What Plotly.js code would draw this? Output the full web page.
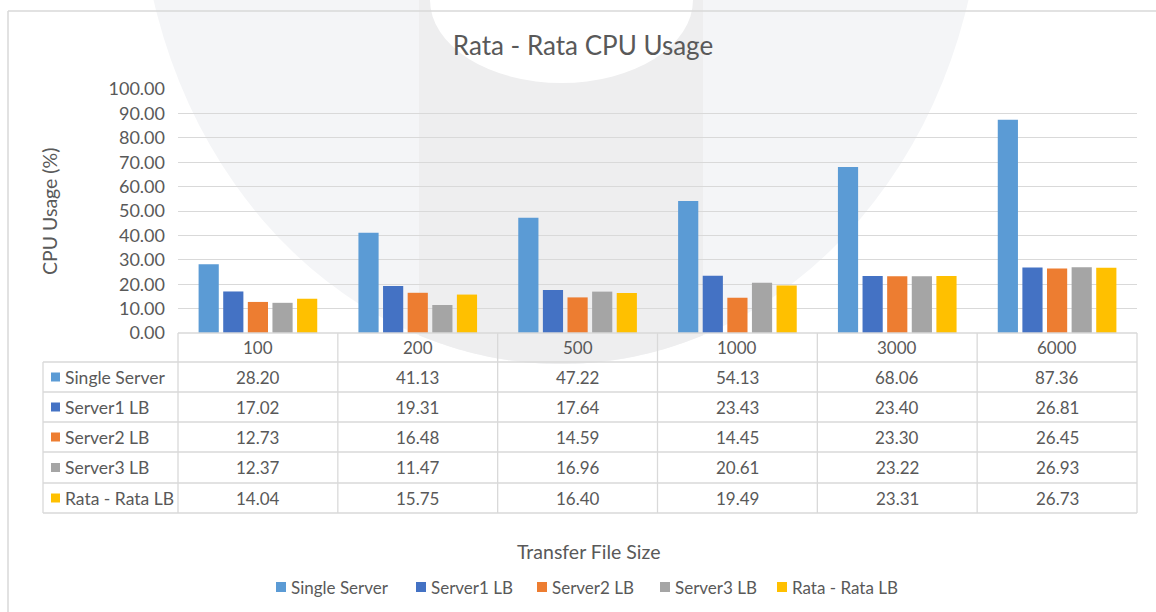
<!DOCTYPE html>
<html>
<head>
<meta charset="utf-8">
<script src="https://cdn.plot.ly/plotly-3.0.1.min.js"></script>
<style>
  html, body { margin: 0; padding: 0; background: #ffffff; }
  #chart { width: 1156px; height: 612px; }
</style>
</head>
<body>
<div id="chart"></div>
<script>
// ---- data ----
const categories = ['100', '200', '500', '1000', '3000', '6000'];
const seriesNames = ['Single Server', 'Server1 LB', 'Server2 LB', 'Server3 LB', 'Rata - Rata LB'];
const singleServer = [28.20, 41.13, 47.22, 54.13, 68.06, 87.36];
const server1LB    = [17.02, 19.31, 17.64, 23.43, 23.40, 26.81];
const server2LB    = [12.73, 16.48, 14.59, 14.45, 23.30, 26.45];
const server3LB    = [12.37, 11.47, 16.96, 20.61, 23.22, 26.93];
const rataRataLB   = [14.04, 15.75, 16.40, 19.49, 23.31, 26.73];
const yTickValues  = [0, 10, 20, 30, 40, 50, 60, 70, 80, 90, 100];

const seriesValues = [singleServer, server1LB, server2LB, server3LB, rataRataLB];
const seriesColors = ['#5b9bd5', '#4472c4', '#ed7d31', '#a5a5a5', '#ffc000'];

// ---- geometry (pixels) ----
const W = 1156, H = 612;
const L = 178, R = 1137, T = 89, B = 333;
const px = x => (x - L) / (R - L);
const py = y => (B - y) / (B - T);
const FONT = 'Lato, "Open Sans", sans-serif';
const TXT = '#595959';
const GRID = '#d9d9d9';

const traces = seriesValues.map((vals, i) => ({
  type: 'bar',
  name: seriesNames[i],
  x: categories,
  y: vals,
  marker: { color: seriesColors[i] },
  hoverinfo: 'x+y+name'
}));

const shapes = [];
const annotations = [];

// --- watermark (decorative background) ---
const wcx = 561, wcy = -128, wa = 422, wb = 492;
shapes.push({ type: 'circle', xref: 'paper', yref: 'paper', layer: 'below',
  x0: px(wcx - wa), x1: px(wcx + wa), y0: py(wcy + wb), y1: py(wcy - wb),
  fillcolor: '#f4f5f7', line: { width: 0 } });
(function () {
  const x0 = 419, x1 = 703;
  let d = 'M ' + px(x0) + ',' + py(-20) + ' L ' + px(x1) + ',' + py(-20);
  for (let x = x1; x >= x0; x -= 4) {
    const t = (x - wcx) / wa;
    const y = wcy + wb * Math.sqrt(Math.max(0, 1 - t * t));
    d += ' L ' + px(x) + ',' + py(y);
  }
  d += ' Z';
  shapes.push({ type: 'path', xref: 'paper', yref: 'paper', layer: 'below', path: d,
    fillcolor: '#eeeeef', line: { width: 0 } });
})();
shapes.push({ type: 'circle', xref: 'paper', yref: 'paper', layer: 'below',
  x0: px(430), x1: px(693), y0: py(83), y1: py(-83),
  fillcolor: '#ffffff', line: { width: 0 } });

// --- chart border ---
shapes.push({ type: 'line', xref: 'paper', yref: 'paper', layer: 'below',
  x0: px(8), x1: px(8), y0: py(11), y1: py(H + 5), line: { color: GRID, width: 1.5 } });
shapes.push({ type: 'line', xref: 'paper', yref: 'paper', layer: 'below',
  x0: px(8), x1: px(W + 5), y0: py(11), y1: py(11), line: { color: GRID, width: 1.5 } });

// --- data table ---
const colEdges = categories.map((c, i) => L + i * (R - L) / categories.length).concat([R]);
const rowEdges = [333, 362, 392, 422, 452, 483, 513];
const tableLeft = 43;
shapes.push({ type: 'line', xref: 'paper', yref: 'paper', x0: px(L), x1: px(R),
  y0: py(rowEdges[0]), y1: py(rowEdges[0]), line: { color: GRID, width: 1.3 } });
for (let r = 1; r < rowEdges.length; r++) {
  shapes.push({ type: 'line', xref: 'paper', yref: 'paper', x0: px(tableLeft), x1: px(R),
    y0: py(rowEdges[r]), y1: py(rowEdges[r]), line: { color: GRID, width: 1.3 } });
}
shapes.push({ type: 'line', xref: 'paper', yref: 'paper', x0: px(tableLeft), x1: px(tableLeft),
  y0: py(rowEdges[1]), y1: py(rowEdges[6]), line: { color: GRID, width: 1.3 } });
colEdges.forEach(x => {
  shapes.push({ type: 'line', xref: 'paper', yref: 'paper', x0: px(x), x1: px(x),
    y0: py(rowEdges[0]), y1: py(rowEdges[6]), line: { color: GRID, width: 1.3 } });
});
categories.forEach((c, i) => {
  annotations.push({ xref: 'paper', yref: 'paper', x: px((colEdges[i] + colEdges[i + 1]) / 2),
    y: py((rowEdges[0] + rowEdges[1]) / 2), text: c, showarrow: false,
    xanchor: 'center', yanchor: 'middle', font: { family: FONT, size: 17, color: TXT } });
});
seriesNames.forEach((name, s) => {
  const yc = (rowEdges[s + 1] + rowEdges[s + 2]) / 2;
  shapes.push({ type: 'rect', xref: 'paper', yref: 'paper',
    x0: px(51), x1: px(60), y0: py(yc - 4.5), y1: py(yc + 4.5),
    fillcolor: seriesColors[s], line: { width: 0 } });
  annotations.push({ xref: 'paper', yref: 'paper', x: px(63), y: py(yc), text: name,
    showarrow: false, xanchor: 'left', yanchor: 'middle',
    font: { family: FONT, size: 17.5, color: TXT } });
  seriesValues[s].forEach((v, i) => {
    annotations.push({ xref: 'paper', yref: 'paper', x: px((colEdges[i] + colEdges[i + 1]) / 2),
      y: py(yc), text: v.toFixed(2), showarrow: false, xanchor: 'center', yanchor: 'middle',
      font: { family: FONT, size: 17, color: TXT } });
  });
});

// --- legend (bottom, drawn to match the original's compact key) ---
const legendKeyX = [276, 416, 537, 660, 777];
const legendY = 587;
seriesNames.forEach((name, s) => {
  shapes.push({ type: 'rect', xref: 'paper', yref: 'paper',
    x0: px(legendKeyX[s]), x1: px(legendKeyX[s] + 10), y0: py(legendY + 5), y1: py(legendY - 5),
    fillcolor: seriesColors[s], line: { width: 0 } });
  annotations.push({ xref: 'paper', yref: 'paper', x: px(legendKeyX[s] + 13), y: py(legendY),
    text: name, showarrow: false, xanchor: 'left', yanchor: 'middle',
    font: { family: FONT, size: 17, color: TXT } });
});

// axis titles
annotations.push({ xref: 'paper', yref: 'paper', x: px(49), y: py(212), text: 'CPU Usage (%)',
  textangle: -90, showarrow: false, xanchor: 'center', yanchor: 'middle',
  font: { family: FONT, size: 19.5, color: TXT } });
annotations.push({ xref: 'paper', yref: 'paper', x: px(588), y: py(551), text: 'Transfer File Size',
  showarrow: false, xanchor: 'center', yanchor: 'middle',
  font: { family: FONT, size: 19.5, color: TXT } });

const layout = {
  width: W, height: H,
  margin: { l: L, r: W - R, t: T, b: H - B, pad: 0 },
  paper_bgcolor: '#ffffff',
  plot_bgcolor: 'rgba(0,0,0,0)',
  title: { text: 'Rata - Rata CPU Usage', x: 583 / W, xanchor: 'center', xref: 'container',
    y: 1 - 46 / H, yanchor: 'middle', yref: 'container',
    font: { family: FONT, size: 26, color: TXT } },
  barmode: 'group',
  bargap: 0.23,
  bargroupgap: 0.18,
  xaxis: { type: 'category', categoryarray: categories, categoryorder: 'array',
    showticklabels: false, showgrid: false, zeroline: false, showline: false, ticks: '',
    fixedrange: true },
  yaxis: { range: [0, 100], tickvals: yTickValues, tickformat: '.2f', showgrid: true,
    gridcolor: GRID, gridwidth: 1.3, zeroline: false, showline: false, ticks: '',
    ticklabelstandoff: 12, tickfont: { family: FONT, size: 18, color: TXT }, fixedrange: true },
  showlegend: false,
  shapes: shapes,
  annotations: annotations
};

Plotly.newPlot('chart', traces, layout, { displayModeBar: false, responsive: false });
</script>
</body>
</html>
